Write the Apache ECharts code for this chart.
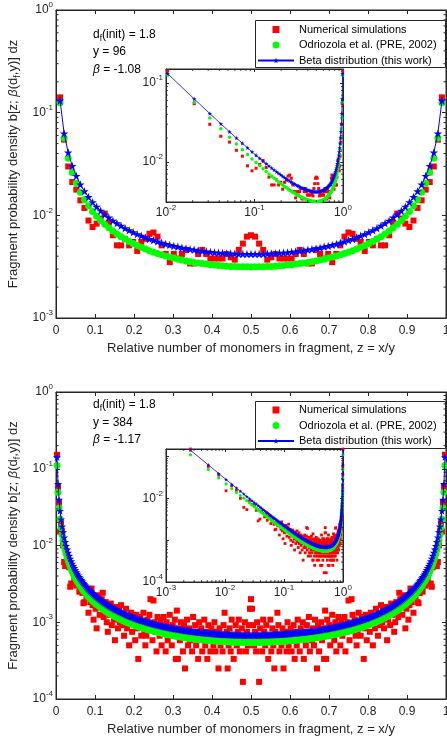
<!DOCTYPE html>
<html><head><meta charset="utf-8">
<script src="https://cdn.jsdelivr.net/npm/echarts@6/dist/echarts.min.js"></script>
<style>html,body{margin:0;padding:0;background:#fff}#c{width:447px;height:740px}</style>
</head><body><div id="c"></div>
<script>
// ---------------- DATA ----------------
// cluster sizes of the two panels (x = 1 .. y-1, z = x/y)
const topY = 96;
const botY = 384;

// Top panel (y = 96), values for x = 1..95
const topRed = [
0.141,0.0546,0.0299,0.0211,0.0178,0.014,0.0118,0.0089,0.0077,0.0083,
0.0093,0.0104,0.0085,0.0064,0.0051,0.0051,0.0059,0.0051,0.0055,0.0045,
0.0055,0.0059,0.0066,0.0068,0.0062,0.0051,0.0042,0.0035,0.0042,0.0038,
0.0042,0.0046,0.0034,0.0034,0.0042,0.0046,0.0042,0.0038,0.0038,0.0038,
0.0038,0.0042,0.0039,0.0037,0.0046,0.0053,0.0062,0.0064,
0.0062,0.0053,0.0046,0.0037,0.0039,0.0042,0.0038,0.0038,0.0038,0.0038,
0.0042,0.0046,0.0042,0.0034,0.0034,0.0046,0.0042,0.0038,0.0042,0.0035,
0.0042,0.0051,0.0062,0.0068,0.0066,0.0059,0.0055,0.0045,0.0055,0.0051,
0.0059,0.0051,0.0051,0.0064,0.0085,0.0104,0.0093,0.0083,0.0077,0.0089,
0.0118,0.014,0.0178,0.0211,0.0299,0.0546,0.141];
const topGreen = [
0.125,0.0568,0.036,0.0262,0.0205,0.0168,0.0142,0.0124,0.0109,0.00982,
0.00891,0.00817,0.00755,0.00703,0.00658,0.0062,0.00587,0.00557,0.00531,0.00508,
0.00488,0.0047,0.00453,0.00438,0.00425,0.00413,0.00402,0.00392,0.00383,0.00374,
0.00367,0.0036,0.00354,0.00348,0.00343,0.00339,0.00335,0.00331,0.00328,0.00325,
0.00322,0.0032,0.00318,0.00317,0.00316,0.00315,0.00315,0.00314,
0.00315,0.00315,0.00316,0.00317,0.00318,0.0032,0.00322,0.00325,0.00328,0.00331,
0.00335,0.00339,0.00343,0.00348,0.00354,0.0036,0.00367,0.00374,0.00383,0.00392,
0.00402,0.00413,0.00425,0.00438,0.00453,0.0047,0.00488,0.00508,0.00531,0.00557,
0.00587,0.0062,0.00658,0.00703,0.00755,0.00817,0.00891,0.00982,0.0109,0.0124,
0.0142,0.0168,0.0205,0.0262,0.036,0.0568,0.125];
const topBlue = [
0.131,0.0627,0.0409,0.0303,0.0241,0.02,0.0172,0.0151,0.0134,0.0121,
0.0111,0.0102,0.0095,0.00888,0.00835,0.0079,0.0075,0.00715,0.00684,0.00656,
0.00632,0.00609,0.00589,0.00571,0.00555,0.0054,0.00527,0.00514,0.00503,0.00493,
0.00483,0.00475,0.00468,0.00461,0.00454,0.00449,0.00444,0.00439,0.00435,0.00432,
0.00429,0.00426,0.00424,0.00422,0.00421,0.0042,0.00419,0.00419,
0.00419,0.0042,0.00421,0.00422,0.00424,0.00426,0.00429,0.00432,0.00435,0.00439,
0.00444,0.00449,0.00454,0.00461,0.00468,0.00475,0.00483,0.00493,0.00503,0.00514,
0.00527,0.0054,0.00555,0.00571,0.00589,0.00609,0.00632,0.00656,0.00684,0.00715,
0.0075,0.0079,0.00835,0.00888,0.0095,0.0102,0.0111,0.0121,0.0134,0.0151,
0.0172,0.02,0.0241,0.0303,0.0409,0.0627,0.131];

// Bottom panel (y = 384), values for x = 1..383
const botRed = [
0.152,0.058,0.036,0.0152,0.02,0.0155,0.01,0.0061,0.0054,0.0085,
0.0072,0.0068,0.0052,0.0029,0.0032,0.0049,0.0044,0.0036,0.0041,0.003,
0.0037,0.0034,0.0025,0.0029,0.0033,0.0024,0.00177,0.00183,0.0026,0.0022,
0.00233,0.00133,0.0025,0.00183,0.00275,0.00167,0.00108,0.00217,0.0015,0.000833,
0.00175,0.00225,0.00125,0.00158,0.002,0.00242,0.00117,0.00142,0.00183,0.001,
0.00075,0.0015,0.00125,0.00175,0.000917,0.00133,0.00108,0.000583,0.00158,0.00117,
0.000833,0.00142,0.001,0.00167,0.000917,0.00125,0.000667,0.00108,0.0015,0.000833,
0.00117,0.0005,0.001,0.00133,0.00075,0.00108,0.000917,0.000583,0.00125,0.000833,
0.000333,0.001,0.00117,0.000667,0.000917,0.00133,0.00075,0.0005,0.000667,0.00108,
0.000833,0.00125,0.002,0.000917,0.000583,0.00192,0.001,0.00075,0.000417,0.00117,
0.000833,0.000667,0.00108,0.0005,0.000917,0.00117,0.00075,0.000417,0.001,0.000583,
0.000833,0.00125,0.000667,0.0005,0.000917,0.00075,0.00108,0.000333,0.00142,0.000333,
0.000833,0.000583,0.001,0.00075,0.000417,0.000917,0.00025,0.000667,0.00108,0.0005,
0.000833,0.000583,0.00075,0.000417,0.00117,0.000667,0.000917,0.0005,0.00075,0.000333,
0.001,0.000583,0.000833,0.000417,0.000667,0.00108,0.0005,0.00075,0.000333,0.000917,
0.000583,0.000417,0.000833,0.000667,0.0005,0.001,0.000417,0.00075,0.000583,0.00025,
0.000833,0.0005,0.000667,0.000417,0.000917,0.00133,0.000583,0.00075,0.00025,0.0005,
0.000833,0.000417,0.00108,0.000667,0.000333,0.000583,0.000917,0.0005,0.00075,0.00108,
0.000417,0.000667,0.000833,0.000167,0.000583,0.001,0.000417,0.00075,0.0005,0.000917,
0.0015,0.002,
0.0015,0.000917,0.0005,0.00075,0.000417,0.001,0.000583,0.000167,0.000833,0.000667,
0.000417,0.00108,0.00075,0.0005,0.000917,0.000583,0.000333,0.000667,0.00108,0.000417,
0.000833,0.0005,0.00025,0.00075,0.000583,0.00133,0.000917,0.000417,0.000667,0.0005,
0.000833,0.00025,0.000583,0.00075,0.000417,0.001,0.0005,0.000667,0.000833,0.000417,
0.000583,0.000917,0.000333,0.00075,0.0005,0.00108,0.000667,0.000417,0.000833,0.000583,
0.001,0.000333,0.00075,0.0005,0.000917,0.000667,0.00117,0.000417,0.00075,0.000583,
0.000833,0.0005,0.00108,0.000667,0.00025,0.000917,0.000417,0.00075,0.001,0.000583,
0.000833,0.000333,0.00142,0.000333,0.00108,0.00075,0.000917,0.0005,0.000667,0.00125,
0.000833,0.000583,0.001,0.000417,0.00075,0.00117,0.000917,0.0005,0.00108,0.000667,
0.000833,0.00117,0.000417,0.00075,0.001,0.00192,0.000583,0.000917,0.002,0.00125,
0.000833,0.00108,0.000667,0.0005,0.00075,0.00133,0.000917,0.000667,0.00117,0.001,
0.000333,0.000833,0.00125,0.000583,0.000917,0.00108,0.00075,0.00133,0.001,0.0005,
0.00117,0.000833,0.0015,0.00108,0.000667,0.00125,0.000917,0.00167,0.001,0.00142,
0.000833,0.00117,0.00158,0.000583,0.00108,0.00133,0.000917,0.00175,0.00125,0.0015,
0.00075,0.001,0.00183,0.00142,0.00117,0.00242,0.002,0.00158,0.00125,0.00225,
0.00175,0.000833,0.0015,0.00217,0.00108,0.00167,0.00275,0.00183,0.0025,0.00133,
0.00233,0.0022,0.0026,0.00183,0.00177,0.0024,0.0033,0.0029,0.0025,0.0034,
0.0037,0.003,0.0041,0.0036,0.0044,0.0049,0.0032,0.0029,0.0052,0.0068,
0.0072,0.0085,0.0054,0.0061,0.01,0.0155,0.02,0.0152,0.036,0.058,
0.152];
const botGreen = [
0.11,0.0494,0.0309,0.0222,0.0172,0.0139,0.0117,0.0101,0.00881,0.00782,
0.00703,0.00637,0.00583,0.00536,0.00496,0.00462,0.00432,0.00405,0.00383,0.00361,
0.00342,0.00326,0.0031,0.00296,0.00283,0.00272,0.0026,0.00251,0.00242,0.00233,
0.00225,0.00218,0.00211,0.00204,0.00198,0.00192,0.00187,0.00182,0.00177,0.00172,
0.00169,0.00165,0.00161,0.00157,0.00153,0.0015,0.00146,0.00144,0.00141,0.00137,
0.00135,0.00133,0.0013,0.00128,0.00126,0.00123,0.00121,0.00119,0.00118,0.00116,
0.00114,0.00112,0.0011,0.00109,0.00107,0.00105,0.00104,0.00103,0.00101,0.001,
0.00099,0.000975,0.000967,0.000951,0.000943,0.000935,0.000919,0.000911,0.000903,0.000887,
0.000879,0.000871,0.000863,0.000855,0.000847,0.000839,0.000831,0.000823,0.000815,0.000807,
0.000801,0.000794,0.000787,0.000781,0.000774,0.000768,0.000762,0.000756,0.00075,0.000744,
0.000739,0.000734,0.000728,0.000723,0.000718,0.000713,0.000708,0.000704,0.000699,0.000694,
0.00069,0.000686,0.000682,0.000677,0.000674,0.00067,0.000666,0.000662,0.000659,0.000655,
0.000651,0.000648,0.000645,0.000642,0.000639,0.000636,0.000633,0.00063,0.000627,0.000624,
0.000622,0.000619,0.000617,0.000614,0.000611,0.000609,0.000607,0.000605,0.000603,0.0006,
0.000598,0.000596,0.000594,0.000592,0.00059,0.000589,0.000587,0.000585,0.000583,0.000582,
0.00058,0.000578,0.000577,0.000575,0.000574,0.000573,0.000571,0.00057,0.000569,0.000568,
0.000567,0.000566,0.000565,0.000563,0.000562,0.000562,0.000561,0.00056,0.000559,0.000558,
0.000558,0.000557,0.000556,0.000555,0.000555,0.000554,0.000554,0.000553,0.000553,0.000552,
0.000552,0.000551,0.000551,0.00055,0.00055,0.00055,0.00055,0.00055,0.00055,0.00055,
0.00055,0.00055,
0.00055,0.00055,0.00055,0.00055,0.00055,0.00055,0.00055,0.00055,0.000551,0.000551,
0.000552,0.000552,0.000553,0.000553,0.000554,0.000554,0.000555,0.000555,0.000556,0.000557,
0.000558,0.000558,0.000559,0.00056,0.000561,0.000562,0.000562,0.000563,0.000565,0.000566,
0.000567,0.000568,0.000569,0.00057,0.000571,0.000573,0.000574,0.000575,0.000577,0.000578,
0.00058,0.000582,0.000583,0.000585,0.000587,0.000589,0.00059,0.000592,0.000594,0.000596,
0.000598,0.0006,0.000603,0.000605,0.000607,0.000609,0.000611,0.000614,0.000617,0.000619,
0.000622,0.000624,0.000627,0.00063,0.000633,0.000636,0.000639,0.000642,0.000645,0.000648,
0.000651,0.000655,0.000659,0.000662,0.000666,0.00067,0.000674,0.000677,0.000682,0.000686,
0.00069,0.000694,0.000699,0.000704,0.000708,0.000713,0.000718,0.000723,0.000728,0.000734,
0.000739,0.000744,0.00075,0.000756,0.000762,0.000768,0.000774,0.000781,0.000787,0.000794,
0.000801,0.000807,0.000815,0.000823,0.000831,0.000839,0.000847,0.000855,0.000863,0.000871,
0.000879,0.000887,0.000903,0.000911,0.000919,0.000935,0.000943,0.000951,0.000967,0.000975,
0.00099,0.001,0.00101,0.00103,0.00104,0.00105,0.00107,0.00109,0.0011,0.00112,
0.00114,0.00116,0.00118,0.00119,0.00121,0.00123,0.00126,0.00128,0.0013,0.00133,
0.00135,0.00137,0.00141,0.00144,0.00146,0.0015,0.00153,0.00157,0.00161,0.00165,
0.00169,0.00172,0.00177,0.00182,0.00187,0.00192,0.00198,0.00204,0.00211,0.00218,
0.00225,0.00233,0.00242,0.00251,0.0026,0.00272,0.00283,0.00296,0.0031,0.00326,
0.00342,0.00361,0.00383,0.00405,0.00432,0.00462,0.00496,0.00536,0.00583,0.00637,
0.00703,0.00782,0.00881,0.0101,0.0117,0.0139,0.0172,0.0222,0.0309,0.0494,
0.11];
const botBlue = [
0.142,0.0634,0.0395,0.0283,0.0219,0.0177,0.0149,0.0127,0.0111,0.00987,
0.00886,0.00803,0.00734,0.00675,0.00624,0.00581,0.00543,0.00509,0.0048,0.00453,
0.00429,0.00408,0.00388,0.00371,0.00355,0.0034,0.00326,0.00314,0.00302,0.00291,
0.00281,0.00272,0.00263,0.00255,0.00247,0.0024,0.00233,0.00227,0.00221,0.00215,
0.0021,0.00205,0.002,0.00195,0.00191,0.00186,0.00182,0.00179,0.00175,0.00171,
0.00168,0.00165,0.00162,0.00159,0.00156,0.00153,0.00151,0.00148,0.00146,0.00144,
0.00141,0.00139,0.00137,0.00135,0.00133,0.00131,0.00129,0.00128,0.00126,0.00124,
0.00123,0.00121,0.0012,0.00118,0.00117,0.00116,0.00114,0.00113,0.00112,0.0011,
0.00109,0.00108,0.00107,0.00106,0.00105,0.00104,0.00103,0.00102,0.00101,0.001,
0.000992,0.000983,0.000975,0.000967,0.000958,0.000951,0.000943,0.000936,0.000928,0.000921,
0.000914,0.000908,0.000901,0.000895,0.000888,0.000882,0.000876,0.000871,0.000865,0.000859,
0.000854,0.000849,0.000844,0.000838,0.000834,0.000829,0.000824,0.000819,0.000815,0.000811,
0.000806,0.000802,0.000798,0.000794,0.00079,0.000787,0.000783,0.000779,0.000776,0.000772,
0.000769,0.000766,0.000763,0.000759,0.000756,0.000753,0.000751,0.000748,0.000745,0.000742,
0.00074,0.000737,0.000735,0.000732,0.00073,0.000728,0.000725,0.000723,0.000721,0.000719,
0.000717,0.000715,0.000713,0.000711,0.00071,0.000708,0.000706,0.000705,0.000703,0.000702,
0.0007,0.000699,0.000698,0.000696,0.000695,0.000694,0.000693,0.000692,0.000691,0.00069,
0.000689,0.000688,0.000687,0.000686,0.000685,0.000685,0.000684,0.000683,0.000683,0.000682,
0.000682,0.000681,0.00068,0.00068,0.00068,0.00068,0.00068,0.000679,0.000679,0.000679,
0.000679,0.000679,
0.000679,0.000679,0.000679,0.000679,0.00068,0.00068,0.00068,0.00068,0.00068,0.000681,
0.000682,0.000682,0.000683,0.000683,0.000684,0.000685,0.000685,0.000686,0.000687,0.000688,
0.000689,0.00069,0.000691,0.000692,0.000693,0.000694,0.000695,0.000696,0.000698,0.000699,
0.0007,0.000702,0.000703,0.000705,0.000706,0.000708,0.00071,0.000711,0.000713,0.000715,
0.000717,0.000719,0.000721,0.000723,0.000725,0.000728,0.00073,0.000732,0.000735,0.000737,
0.00074,0.000742,0.000745,0.000748,0.000751,0.000753,0.000756,0.000759,0.000763,0.000766,
0.000769,0.000772,0.000776,0.000779,0.000783,0.000787,0.00079,0.000794,0.000798,0.000802,
0.000806,0.000811,0.000815,0.000819,0.000824,0.000829,0.000834,0.000838,0.000844,0.000849,
0.000854,0.000859,0.000865,0.000871,0.000876,0.000882,0.000888,0.000895,0.000901,0.000908,
0.000914,0.000921,0.000928,0.000936,0.000943,0.000951,0.000958,0.000967,0.000975,0.000983,
0.000992,0.001,0.00101,0.00102,0.00103,0.00104,0.00105,0.00106,0.00107,0.00108,
0.00109,0.0011,0.00112,0.00113,0.00114,0.00116,0.00117,0.00118,0.0012,0.00121,
0.00123,0.00124,0.00126,0.00128,0.00129,0.00131,0.00133,0.00135,0.00137,0.00139,
0.00141,0.00144,0.00146,0.00148,0.00151,0.00153,0.00156,0.00159,0.00162,0.00165,
0.00168,0.00171,0.00175,0.00179,0.00182,0.00186,0.00191,0.00195,0.002,0.00205,
0.0021,0.00215,0.00221,0.00227,0.00233,0.0024,0.00247,0.00255,0.00263,0.00272,
0.00281,0.00291,0.00302,0.00314,0.00326,0.0034,0.00355,0.00371,0.00388,0.00408,
0.00429,0.00453,0.0048,0.00509,0.00543,0.00581,0.00624,0.00675,0.00734,0.00803,
0.00886,0.00987,0.0111,0.0127,0.0149,0.0177,0.0219,0.0283,0.0395,0.0634,
0.142];

const seriesNames = ['Numerical simulations', 'Odriozola et al. (PRE, 2002)', 'Beta distribution (this work)'];
const xTitle = 'Relative number of monomers in fragment, z = x/y';

// ---------------- CHART ----------------
const FONT = '"Liberation Sans", Arial, Helvetica, sans-serif';
const AX = '#262626';
const STAR = 'path://M0,-10L2.245,-3.09L9.511,-3.09L3.633,1.18L5.878,8.09L0,3.82L-5.878,8.09L-3.633,1.18L-9.511,-3.09L-2.245,-3.09Z';
const SQUARE = 'path://M0,0L10,0L10,10L0,10Z';

const toPairs = (vals, total) => vals.map((v, i) => [(i + 1) / total, v]);

const tickRich = {
  b: {fontSize: 12, lineHeight: 18, verticalAlign: 'middle', color: AX, fontFamily: FONT},
  s: {fontSize: 8, lineHeight: 8, verticalAlign: 'top', color: AX, fontFamily: FONT}
};
function logLabel(v) {
  const l = Math.log10(v), e = Math.round(l);
  if (Math.abs(l - e) > 1e-6) return '';
  return '{b|10}{s|' + e + '}';
}
function logLabelEven(v) {
  const l = Math.log10(v), e = Math.round(l);
  if (Math.abs(l - e) > 1e-6 || e % 2 !== 0) return '';
  return '{b|10}{s|' + e + '}';
}
const axLine = {show: true, onZero: false, lineStyle: {color: AX, width: 1}};
const tick = (len) => ({show: true, inside: true, length: len, lineStyle: {color: AX, width: 1}});

function xAx(gi, type, min, max, pos, labels, extra) {
  const a = {gridIndex: gi, type, min, max, position: pos, axisLine: axLine,
    axisTick: tick(type === 'log' ? 3 : 4), splitLine: {show: false}, zlevel: (gi % 2) ? 1 : 0,
    axisLabel: {show: !!labels, hideOverlap: false, margin: type === 'log' ? 2 : 6, color: AX, fontSize: 12, fontFamily: FONT, lineHeight: 14}};
  if (type === 'value') a.interval = 0.1;
  if (type === 'log') { a.logBase = 10; a.axisLabel.formatter = logLabel; a.axisLabel.rich = tickRich; }
  return Object.assign(a, extra || {});
}
function yAx(gi, min, max, pos, labels, fmt, extra) {
  const a = {gridIndex: gi, type: 'log', logBase: 10, min, max, position: pos, axisLine: axLine,
    axisTick: tick((gi % 2) ? 3 : 4), splitLine: {show: false}, zlevel: (gi % 2) ? 1 : 0,
    axisLabel: {show: !!labels, hideOverlap: false, margin: 3, formatter: fmt || logLabel, rich: tickRich}};
  return Object.assign(a, extra || {});
}
const yName = '{n|Fragment probability density b[z; }{i|β}{n|(d}{s|f}{n|,y)] dz}';
const yNameStyle = {rich: {
  n: {fontSize: 13, lineHeight: 18, verticalAlign: 'middle', color: AX, fontFamily: FONT},
  i: {fontSize: 13, lineHeight: 18, verticalAlign: 'middle', color: AX, fontFamily: FONT, fontStyle: 'italic'},
  s: {fontSize: 9, lineHeight: 9, verticalAlign: 'bottom', color: AX, fontFamily: FONT}}};
const yNameOpt = {name: yName, nameLocation: 'middle', nameRotate: 90, nameGap: 34, nameTextStyle: yNameStyle, nameMoveOverlap: false};
const xNameOpt = {name: xTitle, nameLocation: 'middle', nameGap: 22.5, nameMoveOverlap: false,
  nameTextStyle: {fontSize: 13, color: AX, fontFamily: FONT, lineHeight: 15}};

function trio(xi, yi, zl, reds, greens, blues, total, sz) {
  return [
    {name: seriesNames[0], type: 'scatter', xAxisIndex: xi, yAxisIndex: yi, zlevel: zl, silent: true,
      symbol: 'rect', symbolSize: sz.r, itemStyle: {color: '#ff0000', opacity: 1, borderWidth: 0}, data: toPairs(reds, total)},
    {name: seriesNames[1], type: 'scatter', xAxisIndex: xi, yAxisIndex: yi, zlevel: zl, silent: true,
      symbol: 'circle', symbolSize: sz.g, itemStyle: {color: '#00ff00', opacity: 1, borderWidth: 0}, data: toPairs(greens, total)},
    {name: seriesNames[2], type: 'line', xAxisIndex: xi, yAxisIndex: yi, zlevel: zl, silent: true,
      symbol: STAR, symbolSize: sz.b, showSymbol: true, showAllSymbol: true,
      itemStyle: {color: '#0000ff', borderWidth: 0, opacity: 1}, lineStyle: {color: '#0000ff', width: sz.lw},
      data: toPairs(blues, total)}
  ];
}

function minorVals(lo, hi) {
  const out = [];
  for (let e = Math.floor(Math.log10(lo)) - 1; e <= Math.ceil(Math.log10(hi)); e++)
    for (let m = 2; m <= 9; m++) { const v = m * Math.pow(10, e); if (v > lo * 1.0001 && v < hi * 0.9999) out.push(v); }
  return out;
}
function tickSeries(xi, yi, dir, vals, other, len, zl) {
  return {type: 'custom', xAxisIndex: xi, yAxisIndex: yi, zlevel: zl, z: 5, silent: true, clip: false,
    data: vals.map(v => dir === 'y' ? [other, v] : [v, other]),
    renderItem: (params, api) => {
      const cs = params.coordSys;
      const p = api.coord([api.value(0), api.value(1)]);
      const st = {stroke: AX, lineWidth: 1};
      if (dir === 'y') return {type: 'group', children: [
        {type: 'line', shape: {x1: cs.x, y1: p[1], x2: cs.x + len, y2: p[1]}, style: st},
        {type: 'line', shape: {x1: cs.x + cs.width - len, y1: p[1], x2: cs.x + cs.width, y2: p[1]}, style: st}]};
      return {type: 'group', children: [
        {type: 'line', shape: {x1: p[0], y1: cs.y + cs.height, x2: p[0], y2: cs.y + cs.height - len}, style: st},
        {type: 'line', shape: {x1: p[0], y1: cs.y, x2: p[0], y2: cs.y + len}, style: st}]};
    }};
}

const annRich = {
  n: {fontSize: 12, lineHeight: 16, verticalAlign: 'middle', fontFamily: FONT, fill: '#000'},
  i: {fontSize: 12, lineHeight: 16, verticalAlign: 'middle', fontFamily: FONT, fontStyle: 'italic', fill: '#000'},
  s: {fontSize: 8.5, lineHeight: 8, verticalAlign: 'bottom', fontFamily: FONT, fill: '#000'}
};
function ann(x, y, text) {
  return {type: 'text', x, y, z: 10, silent: true, style: {text, rich: annRich, fill: '#000', font: '12px ' + FONT,
    align: 'left', verticalAlign: 'middle', textAlign: 'left', textVerticalAlign: 'middle'}};
}
const boxStyle = {fill: '#fff', stroke: AX, lineWidth: 1};

const gridBase = {show: true, borderColor: AX, borderWidth: 1, containLabel: false, outerBoundsMode: 'none'};
const legendBase = {orient: 'vertical', left: 257, itemWidth: 36, itemHeight: 7, itemGap: 0, padding: 0,
  selectedMode: false, z: 6, symbolKeepAspect: true,
  textStyle: {fontSize: 11, color: '#000', fontFamily: FONT, lineHeight: 15.5},
  data: [{name: seriesNames[0], icon: SQUARE}, {name: seriesNames[1], icon: 'circle'}, {name: seriesNames[2]}]};

const option = {
  animation: false,
  textStyle: {fontFamily: FONT},
  grid: [
    Object.assign({left: 56, top: 10, width: 390, height: 308, backgroundColor: 'rgba(0,0,0,0)'}, gridBase),
    Object.assign({left: 166, top: 69, width: 177, height: 133, backgroundColor: '#fff', zlevel: 1}, gridBase),
    Object.assign({left: 56, top: 392, width: 390, height: 307, backgroundColor: 'rgba(0,0,0,0)'}, gridBase),
    Object.assign({left: 166, top: 449, width: 177, height: 133, backgroundColor: '#fff', zlevel: 1}, gridBase)
  ],
  xAxis: [
    xAx(0, 'value', 0, 1, 'bottom', true, xNameOpt),
    xAx(0, 'value', 0, 1, 'top', false),
    xAx(1, 'log', 0.01, 1, 'bottom', true),
    xAx(1, 'log', 0.01, 1, 'top', false),
    xAx(2, 'value', 0, 1, 'bottom', true, xNameOpt),
    xAx(2, 'value', 0, 1, 'top', false),
    xAx(3, 'log', 0.001, 1, 'bottom', true),
    xAx(3, 'log', 0.001, 1, 'top', false)
  ],
  yAxis: [
    yAx(0, 0.001, 1, 'left', true, null, yNameOpt),
    yAx(0, 0.001, 1, 'right', false),
    yAx(1, 0.0031, 0.15, 'left', true),
    yAx(1, 0.0031, 0.15, 'right', false),
    yAx(2, 0.0001, 1, 'left', true, null, yNameOpt),
    yAx(2, 0.0001, 1, 'right', false),
    yAx(3, 0.0001, 0.152, 'left', true, logLabelEven),
    yAx(3, 0.0001, 0.152, 'right', false)
  ],
  legend: [
    Object.assign({top: 21.75}, legendBase),
    Object.assign({top: 402.25}, legendBase)
  ],
  graphic: [
    {type: 'rect', z: 3, silent: true, shape: {x: 255.5, y: 20.5, width: 190, height: 47}, style: boxStyle},
    {type: 'rect', z: 3, silent: true, shape: {x: 255.5, y: 401.5, width: 190, height: 47}, style: boxStyle},
    ann(93, 35, '{n|d}{s|f}{n|(init) = 1.8}'),
    ann(93, 52, '{n|y = 96}'),
    ann(93, 70, '{i|β}{n| = -1.08}'),
    ann(93, 405, '{n|d}{s|f}{n|(init) = 1.8}'),
    ann(93, 423, '{n|y = 384}'),
    ann(93, 440, '{i|β}{n| = -1.17}')
  ],
  series: [].concat(
    trio(0, 0, 0, topRed, topGreen, topBlue, topY, {r: 6, g: 7, b: 8.5, lw: 1}),
    trio(2, 2, 1, topRed, topGreen, topBlue, topY, {r: 3, g: 3.5, b: 4.5, lw: 0.8}),
    trio(4, 4, 0, botRed, botGreen, botBlue, botY, {r: 6, g: 7, b: 8, lw: 1}),
    trio(6, 6, 1, botRed, botGreen, botBlue, botY, {r: 2.8, g: 3.2, b: 4, lw: 0.8}),
    [
      tickSeries(0, 0, 'y', minorVals(0.001, 1), 0.5, 2.5, 0),
      tickSeries(4, 4, 'y', minorVals(0.0001, 1), 0.5, 2.5, 0),
      tickSeries(2, 2, 'y', minorVals(0.0031, 0.15), 0.1, 1.8, 1),
      tickSeries(2, 2, 'x', minorVals(0.01, 1), 0.01, 1.8, 1),
      tickSeries(6, 6, 'y', minorVals(0.0001, 0.152), 0.1, 1.8, 1),
      tickSeries(6, 6, 'x', minorVals(0.001, 1), 0.001, 1.8, 1)
    ]
  )
};

const chart = echarts.init(document.getElementById('c'), null, {renderer: 'canvas'});
chart.setOption(option);
</script>
</body></html>
